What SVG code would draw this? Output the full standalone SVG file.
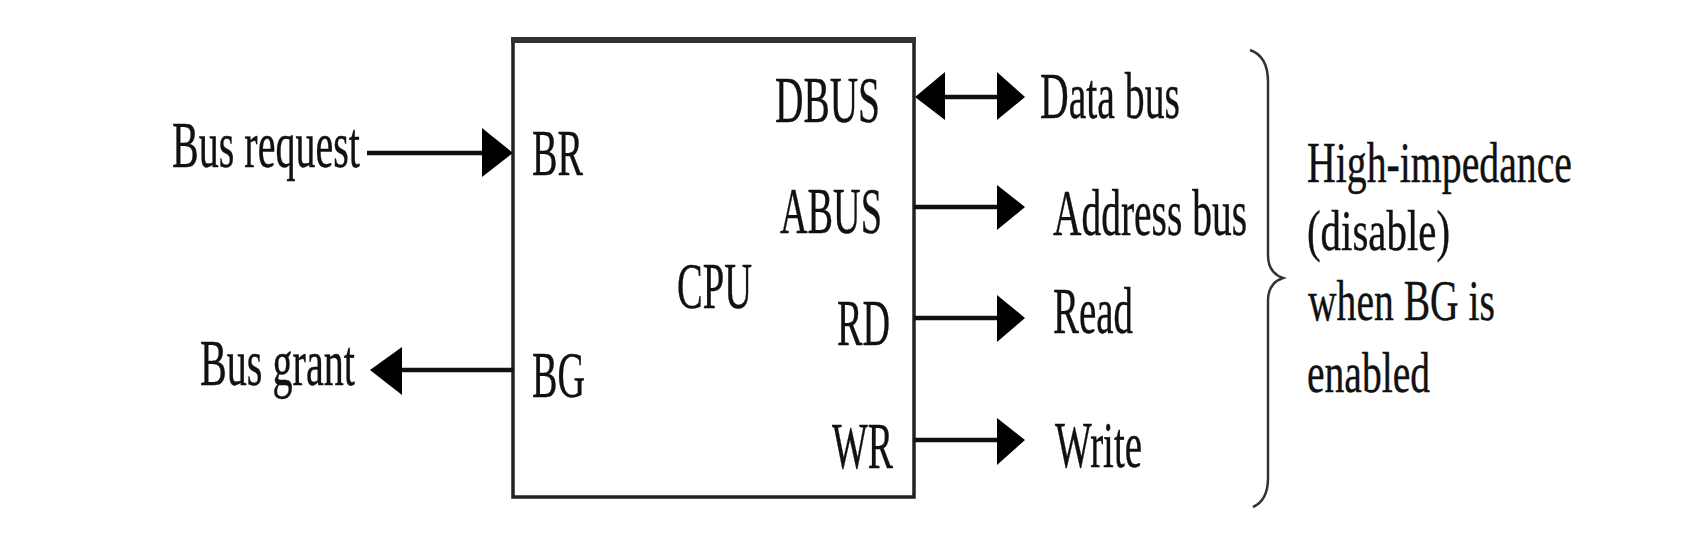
<svg xmlns="http://www.w3.org/2000/svg" width="1684" height="548" viewBox="0 0 1684 548">
<style>
text{font-family:"Liberation Serif","Times New Roman",serif;font-size:66px;fill:#111;stroke:#111;stroke-width:0.4}
.nt{font-size:57px}
.ln{stroke:#111;stroke-width:4.5;fill:none}
.hd{fill:#000}
</style>
<rect width="1684" height="548" fill="#fff"/>
<g id="cpu">
<rect x="513" y="39" width="401" height="458" fill="#fff" stroke="#222" stroke-width="3.5"/>
<line x1="511" y1="40" x2="916" y2="40" stroke="#333" stroke-width="6"/>
<text x="677" y="308" textLength="75" lengthAdjust="spacingAndGlyphs">CPU</text>
<text x="532" y="175" textLength="51" lengthAdjust="spacingAndGlyphs">BR</text>
<text x="532" y="397" textLength="53" lengthAdjust="spacingAndGlyphs">BG</text>
<text x="775" y="122" textLength="105" lengthAdjust="spacingAndGlyphs">DBUS</text>
<text x="780" y="233" textLength="102" lengthAdjust="spacingAndGlyphs">ABUS</text>
<text x="837" y="345" textLength="53" lengthAdjust="spacingAndGlyphs">RD</text>
<text x="832" y="468" textLength="61" lengthAdjust="spacingAndGlyphs">WR</text>
</g>
<g id="labels">
<text x="172" y="167" textLength="188" lengthAdjust="spacingAndGlyphs">Bus request</text>
<text x="200" y="385" textLength="155" lengthAdjust="spacingAndGlyphs">Bus grant</text>
<text x="1040" y="118" textLength="140" lengthAdjust="spacingAndGlyphs">Data bus</text>
<text x="1053" y="235" textLength="194" lengthAdjust="spacingAndGlyphs">Address bus</text>
<text x="1053" y="333" textLength="80" lengthAdjust="spacingAndGlyphs">Read</text>
<text x="1055" y="467" textLength="87" lengthAdjust="spacingAndGlyphs">Write</text>
</g>
<g id="note">
<path d="M1250,50 C1262,54 1268,64 1268,82 L1268,255 C1268,268 1274,275 1283,278 C1274,281 1268,288 1268,301 L1268,478 C1268,494 1262,503 1253,507" fill="none" stroke="#333" stroke-width="2.5"/>
<text class="nt" x="1307" y="182" textLength="265" lengthAdjust="spacingAndGlyphs">High-impedance</text>
<text class="nt" x="1307" y="250" textLength="143" lengthAdjust="spacingAndGlyphs">(disable)</text>
<text class="nt" x="1308" y="320" textLength="187" lengthAdjust="spacingAndGlyphs">when BG is</text>
<text class="nt" x="1307" y="392" textLength="123" lengthAdjust="spacingAndGlyphs">enabled</text>
</g>
<g id="connectors">
<line class="ln" x1="367" y1="153" x2="484" y2="153"/>
<polygon class="hd" points="482,128 513,153 482,177"/>
<line class="ln" x1="400" y1="370" x2="513" y2="370"/>
<polygon class="hd" points="402,347 370,370 402,395"/>
<line class="ln" x1="943" y1="97" x2="999" y2="97"/>
<polygon class="hd" points="945,72 915,97 945,120"/>
<polygon class="hd" points="997,72 1025,97 997,120"/>
<line class="ln" x1="914" y1="207" x2="999" y2="207"/>
<polygon class="hd" points="997,185 1025,207 997,230"/>
<line class="ln" x1="914" y1="318" x2="999" y2="318"/>
<polygon class="hd" points="997,295 1025,318 997,342"/>
<line class="ln" x1="914" y1="440" x2="999" y2="440"/>
<polygon class="hd" points="997,418 1025,440 997,465"/>
</g>
</svg>
